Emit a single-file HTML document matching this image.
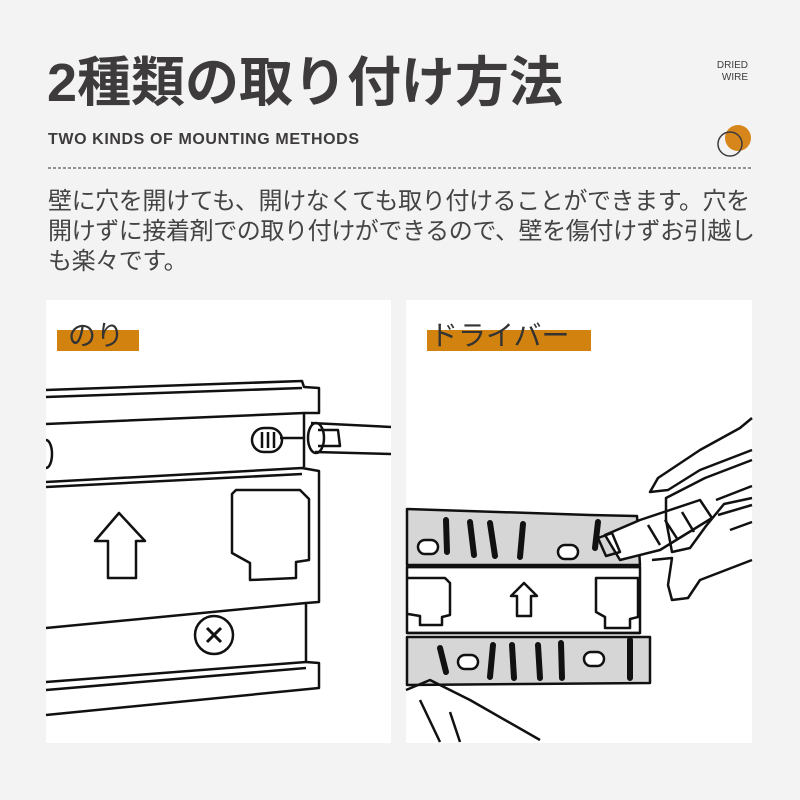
<!DOCTYPE html>
<html><head><meta charset="utf-8"><style>
body{margin:0;width:800px;height:800px;background:#f4f3f3;position:relative;overflow:hidden;font-family:"Liberation Sans","Noto Sans CJK JP",sans-serif;color:#3d3b3b}
.t{position:absolute;white-space:nowrap}
</style></head><body>
<div class="t" style="left:47px;top:48px;font-size:54px;font-weight:bold;letter-spacing:0px;line-height:70px">2種類の取り付け方法</div>
<div class="t" style="left:712px;top:60px;font-size:10px;line-height:12px;text-align:right;width:36px">DRIED<br>WIRE</div>
<div class="t" style="left:48px;top:131px;font-size:16px;font-weight:bold;letter-spacing:0.6px">TWO KINDS OF MOUNTING METHODS</div>
<svg style="position:absolute;left:0;top:0" width="800" height="800">
<circle cx="738" cy="138" r="13" fill="#d6861a"/>
<circle cx="730" cy="144" r="12" fill="none" stroke="#3d3b3b" stroke-width="1.5"/>
<line x1="48" y1="168" x2="752" y2="168" stroke="#333" stroke-width="1" stroke-dasharray="3,2"/>
</svg>
<div class="t" style="left:48px;top:187px;font-size:24px;line-height:30px;color:#444;letter-spacing:-0.4px">壁に穴を開けても、開けなくても取り付けることができます。穴を<br>開けずに接着剤での取り付けができるので、壁を傷付けずお引越し<br>も楽々です。</div>
<div style="position:absolute;left:46px;top:300px;width:345px;height:443px;background:#fff"></div>
<div style="position:absolute;left:406px;top:300px;width:346px;height:443px;background:#fff"></div>
<div style="position:absolute;left:57px;top:330px;width:82px;height:21px;background:#d2820f"></div>
<div style="position:absolute;left:427px;top:330px;width:164px;height:21px;background:#d2820f"></div>
<div class="t" style="left:68px;top:314px;font-size:28px;color:#333">のり</div>
<div class="t" style="left:430px;top:314px;font-size:28px;color:#333">ドライバー</div>
<svg style="position:absolute;left:0;top:0" width="800" height="800" fill="none" stroke="#111" stroke-width="2.5" stroke-linejoin="round">
<path d="M46 390 L302 381 L304 387 L319 388 L319 413 L304 413 L46 424"/>
<path d="M46 397 L302 388"/>
<path d="M304 413 L304 467"/>
<path d="M46 482 L302 468 L319 471 L319 602 L306 603 L306 663"/>
<path d="M46 487 L302 474"/>
<path d="M46 628 L306 603"/>
<path d="M46 682 L306 662 L319 663 L319 688 L46 715"/>
<path d="M46 690 L306 668"/>
<path d="M46 440 A6 14 0 0 1 46 468"/>
<rect x="252" y="428" width="30" height="24" rx="12"/>
<path d="M262 432 v16 M268 432 v16 M274 432 v16 M280 438 h24"/>
<ellipse cx="316" cy="438" rx="8" ry="15"/>
<path d="M311 423 L391 427 M315 452 L391 454 M318 430 L338 430 L340 446 L318 446"/>
<path d="M119 513 L145 541 L136 541 L136 578 L108 578 L108 541 L95 541 Z"/>
<path d="M236 490 L300 490 L309 499 L309 560 L296 562 L296 578 L250 580 L250 563 L232 553 L232 494 Z"/>
<circle cx="214" cy="635" r="19"/>
<path d="M207 628 l14 14 M221 628 l-14 14" stroke-width="3"/>
<path d="M407 509 L590 515 L637 516 L640 565 L407 565 Z" fill="#d6d6d6"/>
<rect x="407" y="567" width="233" height="66" fill="#fff"/>
<path d="M407 637 L650 637 L650 683 L407 685 Z" fill="#d6d6d6"/>
<path d="M407 567 L640 567 M407 633 L640 633" />
<rect x="418" y="540" width="20" height="14" rx="7" fill="#fff"/>
<rect x="558" y="545" width="20" height="14" rx="7" fill="#fff"/>
<rect x="458" y="655" width="20" height="14" rx="7" fill="#fff"/>
<rect x="584" y="652" width="20" height="14" rx="7" fill="#fff"/>
<g stroke-width="6" stroke-linecap="round">
<path d="M446 520 L447 552 M470 522 L474 555 M490 523 L495 556 M523 524 L520 557 M598 522 L595 548"/>
<path d="M440 648 L446 672 M493 645 L490 677 M512 645 L514 678 M538 645 L540 678 M561 643 L562 678 M630 640 L630 678"/>
</g>
<path d="M408 578 L445 578 L450 583 L450 615 L442 617 L442 625 L420 625 L420 616 L408 614"/>
<path d="M596 578 L638 578 L638 617 L630 619 L630 628 L605 628 L605 617 L596 612 Z"/>
<path d="M524 583 L537 596 L531 596 L531 616 L517 616 L517 596 L511 596 Z"/>
<path d="M605 535 L640 520 L700 500 L712 518 L660 550 L620 560 Z" fill="#fff"/>
<path d="M598 538 L612 533 L620 552 L606 556 Z M648 525 L660 545 M665 520 L678 540 M682 512 L694 532"/>
<path d="M752 418 L740 428 L700 450 L658 478 L650 492 L668 490 L700 470 L752 450"/>
<path d="M752 460 L705 478 L666 498 L666 520 L672 552 L690 548 L706 526 L724 504 L752 498"/>
<path d="M652 560 L672 558 L668 585 L672 600 L688 598 L700 580 L752 560"/>
<path d="M716 500 L752 486 M718 515 L752 505 M730 530 L752 522"/>
<path d="M406 690 L430 680 L470 700 L540 740 M420 700 L440 742 M450 712 L460 742"/>
</svg>
</body></html>
